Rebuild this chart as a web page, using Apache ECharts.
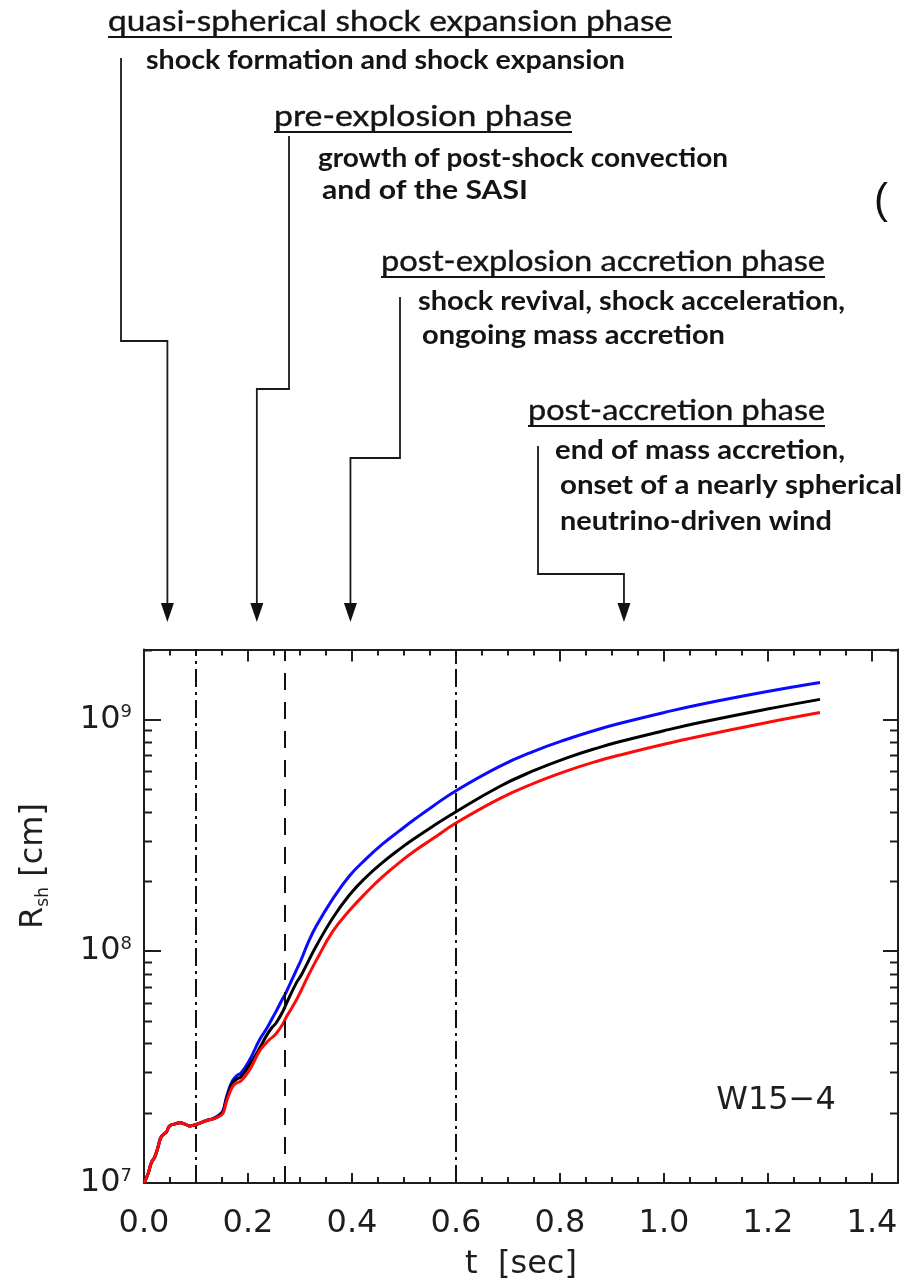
<!DOCTYPE html>
<html>
<head>
<meta charset="utf-8">
<script src="https://cdn.jsdelivr.net/npm/echarts@6/dist/echarts.min.js"></script>
<style>
  html, body { margin: 0; padding: 0; background: #fff; }
  #chart { width: 901px; height: 1288px; }
</style>
</head>
<body>
<div id="chart"></div>
<script>
// Shock radius evolution of model W15-4 (three angular directions / estimates)
const timeSec = [0, 0.008, 0.014, 0.021, 0.027, 0.033, 0.043, 0.049, 0.060, 0.069,
  0.080, 0.088, 0.097, 0.110, 0.120, 0.133, 0.145, 0.152, 0.158, 0.165,
  0.171, 0.178, 0.187, 0.203, 0.222, 0.235, 0.245, 0.254, 0.267, 0.274,
  0.293, 0.302, 0.315, 0.331, 0.363, 0.395, 0.427, 0.459, 0.491, 0.523,
  0.555, 0.600, 0.683, 0.747, 0.812, 0.876, 0.914, 1.000, 1.067, 1.196, 1.300];

const radiusBlue = [1.00e7, 1.10e7, 1.22e7, 1.30e7, 1.43e7, 1.58e7, 1.66e7, 1.76e7, 1.80e7, 1.82e7,
  1.79e7, 1.76e7, 1.78e7, 1.82e7, 1.86e7, 1.90e7, 1.97e7, 2.06e7, 2.32e7, 2.60e7,
  2.78e7, 2.90e7, 2.99e7, 3.39e7, 4.14e7, 4.60e7, 5.05e7, 5.50e7, 6.26e7, 6.69e7,
  8.29e7, 9.16e7, 1.08e8, 1.28e8, 1.68e8, 2.11e8, 2.50e8, 2.90e8, 3.30e8, 3.74e8,
  4.21e8, 4.92e8, 6.25e8, 7.24e8, 8.18e8, 9.08e8, 9.59e8, 1.069e9, 1.156e9, 1.315e9, 1.442e9];

const radiusBlack = [1.00e7, 1.10e7, 1.22e7, 1.30e7, 1.43e7, 1.58e7, 1.66e7, 1.76e7, 1.80e7, 1.82e7,
  1.79e7, 1.76e7, 1.78e7, 1.82e7, 1.86e7, 1.89e7, 1.95e7, 2.03e7, 2.28e7, 2.54e7,
  2.72e7, 2.80e7, 2.88e7, 3.23e7, 3.80e7, 4.30e7, 4.65e7, 4.90e7, 5.50e7, 5.96e7,
  7.30e7, 7.85e7, 8.95e7, 1.05e8, 1.39e8, 1.746e8, 2.084e8, 2.415e8, 2.748e8, 3.09e8,
  3.45e8, 3.99e8, 5.12e8, 5.97e8, 6.80e8, 7.57e8, 8.00e8, 8.93e8, 9.66e8, 1.104e9, 1.219e9];

const radiusRed = [1.00e7, 1.10e7, 1.22e7, 1.30e7, 1.43e7, 1.58e7, 1.66e7, 1.76e7, 1.80e7, 1.82e7,
  1.79e7, 1.76e7, 1.78e7, 1.82e7, 1.86e7, 1.89e7, 1.94e7, 2.00e7, 2.22e7, 2.46e7,
  2.62e7, 2.70e7, 2.76e7, 3.07e7, 3.70e7, 4.02e7, 4.22e7, 4.40e7, 4.85e7, 5.21e7,
  6.15e7, 6.75e7, 7.76e7, 9.10e7, 1.216e8, 1.496e8, 1.786e8, 2.094e8, 2.41e8, 2.73e8,
  3.05e8, 3.57e8, 4.54e8, 5.27e8, 5.98e8, 6.64e8, 7.00e8, 7.80e8, 8.43e8, 9.66e8, 1.069e9];

// Phase boundaries (s): shock stagnation, explosion onset, end of accretion
const phaseLineTimes = [0.1, 0.27, 0.6];
const phaseLineDash = [[18, 5, 3, 5], [17, 12], [18, 5, 3, 5]];

// Phase annotations and the time each arrow points at
const phaseTitles = [
  'quasi-spherical shock expansion phase',
  'pre-explosion phase',
  'post-explosion accretion phase',
  'post-accretion phase'
];
const phaseNotes = [
  ['shock formation and shock expansion'],
  ['growth of post-shock convection', 'and of the SASI'],
  ['shock revival, shock acceleration,', 'ongoing mass accretion'],
  ['end of mass accretion,', 'onset of a nearly spherical', 'neutrino-driven wind']
];
const phaseArrowTimes = [0.045, 0.217, 0.397, 0.923];

const modelName = 'W15\u22124';
const xAxisTitle = 't  [sec]';

// ---- layout (pixels) ----
const titleLayout = [
  { x: 108, y: 22, w: 564, ul: 37 },
  { x: 274, y: 117, w: 298, ul: 132 },
  { x: 381, y: 262, w: 444, ul: 277 },
  { x: 528, y: 411, w: 297, ul: 426 }
];
const noteLayout = [
  [{ x: 146, y: 60, w: 479 }],
  [{ x: 318, y: 158, w: 410 }, { x: 322, y: 190, w: 206 }],
  [{ x: 418, y: 301, w: 427 }, { x: 422, y: 335, w: 303 }],
  [{ x: 555, y: 450, w: 290 }, { x: 560, y: 485, w: 342 }, { x: 560, y: 521, w: 272 }]
];
// connector: start x, start y, elbow y
const connectorLayout = [
  { x: 121, y0: 58, yElbow: 341 },
  { x: 289, y0: 136, yElbow: 389 },
  { x: 400, y0: 297, yElbow: 458 },
  { x: 538, y0: 446, yElbow: 574 }
];
const arrowTipY = 622;

const AXIS_FONT = 'DejaVu Sans';
const INK = '#1e1e1e';

const chart = echarts.init(document.getElementById('chart'), null, { renderer: 'canvas' });

function makeSeries(name, values, color, extra) {
  return Object.assign({
    name: name,
    type: 'line',
    data: timeSec.map((t, i) => [t, values[i]]),
    showSymbol: false,
    smooth: 0.45,
    lineStyle: { color: color, width: 3 },
    itemStyle: { color: color },
    z: 3
  }, extra || {});
}

function logLabel(v) {
  const e = Math.round(Math.log10(v));
  if (Math.abs(v - Math.pow(10, e)) / v > 1e-6) return '';
  return '{b|10}{s|' + e + '}';
}

const option = {
  animation: false,
  backgroundColor: '#ffffff',
  grid: { left: 144, top: 649.5, width: 754, height: 533.5, outerBoundsMode: 'none', containLabel: false },
  xAxis: [
    {
      type: 'value', min: 0, max: 1.45, interval: 0.2, position: 'bottom',
      axisLine: { show: true, onZero: false, lineStyle: { color: INK, width: 2 } },
      axisTick: { show: true, inside: true, length: 10, lineStyle: { color: INK, width: 2 } },
      minorTick: { show: true, splitNumber: 4, length: 6, lineStyle: { color: INK, width: 2 } },
      splitLine: { show: false },
      axisLabel: {
        show: true, margin: 25, color: INK, fontFamily: AXIS_FONT, fontSize: 32,
        formatter: v => (v > 1.41 ? '' : v.toFixed(1))
      },
      name: xAxisTitle, nameLocation: 'middle', nameGap: 66,
      nameTextStyle: { color: INK, fontFamily: AXIS_FONT, fontSize: 32 }
    },
    {
      type: 'value', min: 0, max: 1.45, interval: 0.2, position: 'top',
      axisLine: { show: true, onZero: false, lineStyle: { color: INK, width: 2 } },
      axisTick: { show: true, inside: true, length: 12, lineStyle: { color: INK, width: 2 } },
      minorTick: { show: true, splitNumber: 4, length: 6, lineStyle: { color: INK, width: 2 } },
      splitLine: { show: false },
      axisLabel: { show: false }
    }
  ],
  yAxis: [
    {
      type: 'log', logBase: 10, min: 1e7, max: 2e9, position: 'left',
      axisLine: { show: true, onZero: false, lineStyle: { color: INK, width: 2 } },
      axisTick: { show: true, inside: true, length: 17, lineStyle: { color: INK, width: 2 } },
      minorTick: { show: false },
      splitLine: { show: false },
      axisLabel: {
        show: true, margin: 12, formatter: logLabel,
        rich: {
          b: { fontFamily: AXIS_FONT, fontSize: 32, color: INK, lineHeight: 32 },
          s: { fontFamily: AXIS_FONT, fontSize: 18, color: INK, verticalAlign: 'top', lineHeight: 18 }
        }
      }
    },
    {
      type: 'log', logBase: 10, min: 1e7, max: 2e9, position: 'right',
      axisLine: { show: true, onZero: false, lineStyle: { color: INK, width: 2 } },
      axisTick: { show: true, inside: true, length: 15, lineStyle: { color: INK, width: 2 } },
      minorTick: { show: false },
      splitLine: { show: false },
      axisLabel: { show: false }
    }
  ],
  series: [
    makeSeries('blue', radiusBlue, '#0a0aff', {
      markLine: {
        silent: true, symbol: 'none', label: { show: false },
        data: phaseLineTimes.map((t, i) => ({
          xAxis: t,
          lineStyle: { color: '#111', width: 2, type: phaseLineDash[i] }
        }))
      }
    }),
    makeSeries('black', radiusBlack, '#000000'),
    makeSeries('red', radiusRed, '#ff0a0a')
  ]
};

chart.setOption(option);

// ---------- overlay: minor log ticks, annotations, arrows ----------
const px = t => chart.convertToPixel({ xAxisIndex: 0 }, t);
const py = v => chart.convertToPixel({ yAxisIndex: 0 }, v);
const xLeft = px(0), xRight = px(1.45);

const gfx = [];

// minor ticks at 2..9 × 10^n on both vertical axes
[7, 8, 9].forEach(d => {
  for (let k = 2; k <= 9; k++) {
    const v = k * Math.pow(10, d);
    if (v > 2e9) continue;
    const y = Math.round(py(v)) + 0.5;
    gfx.push({ type: 'line', silent: true, z: 10,
      shape: { x1: xLeft, y1: y, x2: xLeft + 8, y2: y },
      style: { stroke: INK, lineWidth: 2 } });
    gfx.push({ type: 'line', silent: true, z: 10,
      shape: { x1: xRight - 8, y1: y, x2: xRight, y2: y },
      style: { stroke: INK, lineWidth: 2 } });
  }
});

// fitted text helper
const measureCtx = document.createElement('canvas').getContext('2d');
function fittedText(text, x, y, w, size, weight, family, strokeW) {
  measureCtx.font = weight + ' ' + size + 'px "' + family + '"';
  const s = w / measureCtx.measureText(text).width;
  const style = {
    text: text, fontFamily: family, fontSize: size, fontWeight: weight,
    fill: '#141414', align: 'left', verticalAlign: 'middle'
  };
  if (strokeW) { style.stroke = '#141414'; style.lineWidth = strokeW; }
  return { type: 'text', silent: true, x: x, y: y, scaleX: s, z: 20, style: style };
}

phaseTitles.forEach((title, i) => {
  const L = titleLayout[i];
  gfx.push(fittedText(title, L.x, L.y, L.w, 29, 'normal', 'Lato', 0.4));
  gfx.push({ type: 'line', silent: true, z: 20,
    shape: { x1: L.x, y1: L.ul, x2: L.x + L.w, y2: L.ul },
    style: { stroke: '#141414', lineWidth: 1.8 } });
  phaseNotes[i].forEach((line, j) => {
    const N = noteLayout[i][j];
    gfx.push(fittedText(line, N.x, N.y, N.w, 27, 'bold', 'Lato', 0));
  });
  // connector from annotation to the phase on the time axis
  const C = connectorLayout[i];
  const ax = px(phaseArrowTimes[i]);
  gfx.push({ type: 'polyline', silent: true, z: 15,
    shape: { points: [[C.x, C.y0], [C.x, C.yElbow], [ax, C.yElbow], [ax, arrowTipY - 16]] },
    style: { stroke: '#1a1a1a', lineWidth: 1.8, fill: null } });
  gfx.push({ type: 'polygon', silent: true, z: 15,
    shape: { points: [[ax - 6.5, arrowTipY - 19], [ax + 6.5, arrowTipY - 19], [ax, arrowTipY]] },
    style: { fill: '#111' } });
});

// model label inside the plot
gfx.push({ type: 'text', silent: true, x: 776, y: 1101, z: 20,
  style: { text: modelName, fontFamily: AXIS_FONT, fontSize: 32, fill: INK,
    align: 'center', verticalAlign: 'middle' } });

// vertical axis title
gfx.push({ type: 'text', silent: true, x: 34, y: 866, rotation: Math.PI / 2, z: 20,
  style: {
    text: '{r|R}{s|sh}{r| [cm]}', align: 'center', verticalAlign: 'middle',
    rich: {
      r: { fontFamily: AXIS_FONT, fontSize: 32, fill: INK, lineHeight: 36 },
      s: { fontFamily: AXIS_FONT, fontSize: 17, fill: INK, verticalAlign: 'bottom', lineHeight: 17 }
    }
  } });

// stray bracket at the right margin
gfx.push({ type: 'text', silent: true, x: 881, y: 201, z: 20,
  style: { text: '(', fontFamily: 'Liberation Sans', fontSize: 42, fill: '#111',
    align: 'center', verticalAlign: 'middle' } });

chart.setOption({ graphic: { elements: gfx } });
</script>
</body>
</html>
